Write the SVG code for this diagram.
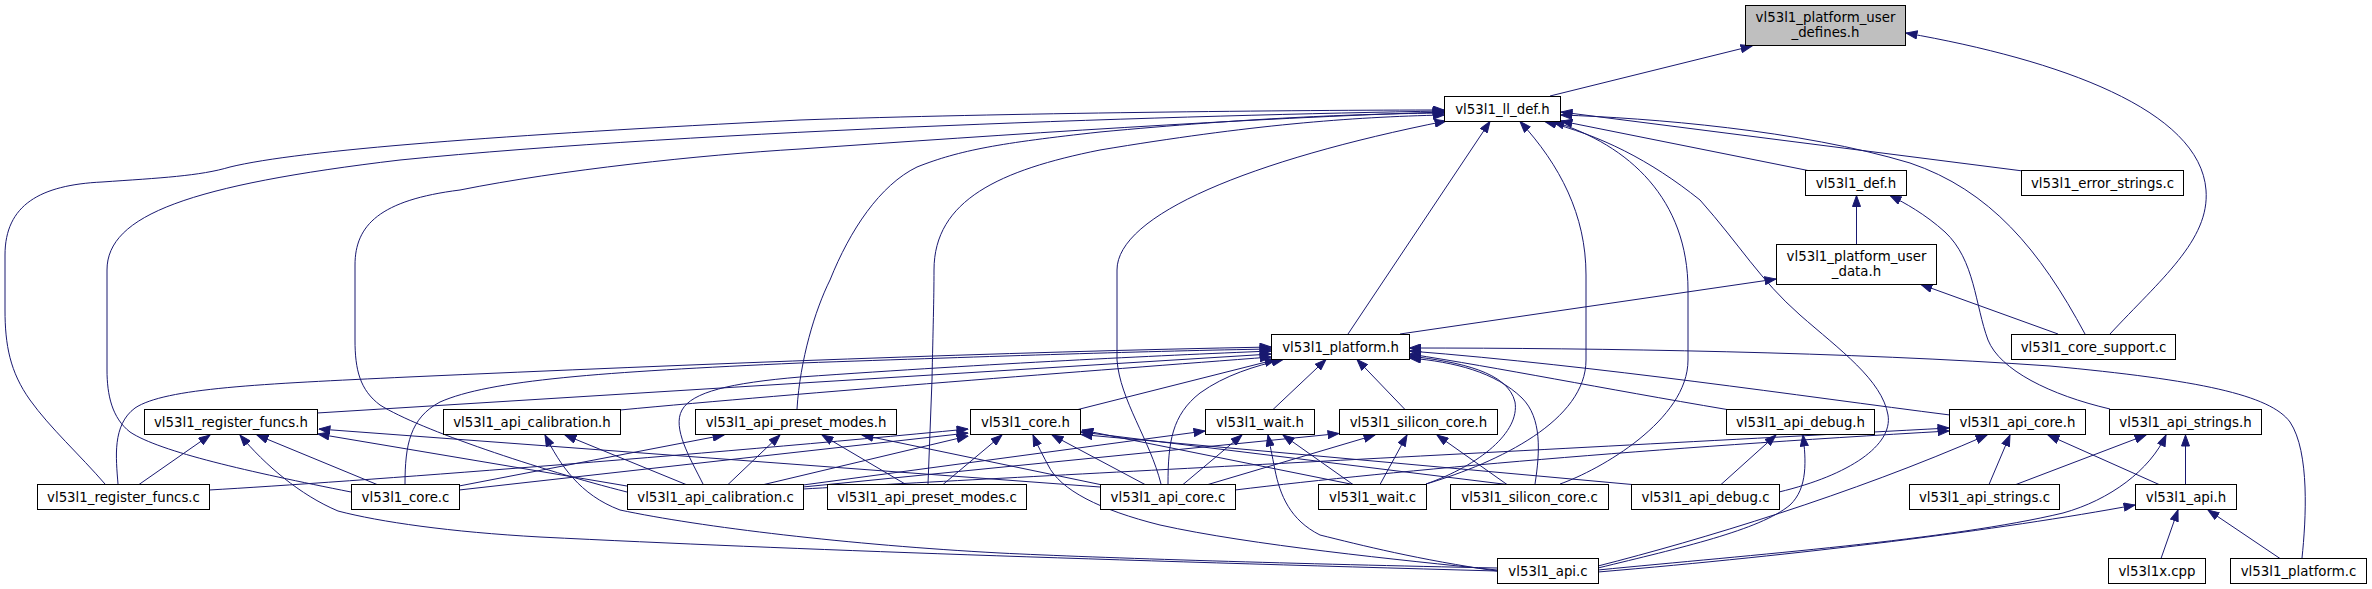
<svg xmlns="http://www.w3.org/2000/svg" width="2372" height="589" viewBox="0 0 2372 589">
<style>
.n{fill:#fff;stroke:#000;stroke-width:1}
.g{fill:#bfbfbf;stroke:#000;stroke-width:1}
.t{font-family:"DejaVu Sans","Liberation Sans",sans-serif;font-size:13.33px;text-anchor:middle;fill:#000}
.e{fill:none;stroke:#191970;stroke-width:1;marker-end:url(#ah)}
</style>
<defs>
<marker id="ah" markerUnits="userSpaceOnUse" markerWidth="12" markerHeight="9" viewBox="0 0 12 9" refX="11.5" refY="4.5" orient="auto">
<path d="M0.5,0.5 L11.5,4.5 L0.5,8.5 z" fill="#191970" stroke="#191970" stroke-width="1"/>
</marker>
</defs>
<rect x="0" y="0" width="2372" height="589" fill="#fff"/>
<g id="connectors">
<path class="e" d="M1550,96 L1752,46"/>
<path class="e" d="M2110,334 C2160,280 2210,240 2206,190 C2200,110 2060,60 1906,33"/>
<path class="e" d="M1808,170.5 L1561,121"/>
<path class="e" d="M2023,171 L1561,112"/>
<path class="e" d="M2085,334 C2040,250 1990,190 1910,163 C1800,130 1650,118 1561,115"/>
<path class="e" d="M1560,484 C1600,470 1688,420 1688,360 L1688,290 C1688,200 1630,145 1553,121.5"/>
<path class="e" d="M1779,492 C1850,475 1893,445 1888,415 C1882,380 1840,350 1800,315 C1760,280 1740,245 1700,200 C1650,160 1600,135 1545,121.5"/>
<path class="e" d="M1426,484 C1500,462 1586,420 1586,360 L1586,275 C1586,215 1560,165 1520,121.5"/>
<path class="e" d="M1348,334 L1490,121.5"/>
<path class="e" d="M1161,484 C1150,440 1120,400 1117,360 L1117,270 C1117,215 1250,160 1446,121"/>
<path class="e" d="M928,484 L932,380 C933,330 934,300 934,270 C934,200 1000,170 1100,150 C1250,125 1350,117 1444,115"/>
<path class="e" d="M797,409 C800,360 815,310 830,280 C850,230 880,185 917,167 C960,150 1000,143 1100,132 C1250,118 1350,114 1444,113"/>
<path class="e" d="M627,492 C540,470 420,430 380,405 C360,390 355,370 355,340 L355,265 C355,225 380,200 460,190 C560,170 700,155 800,149 C1000,135 1250,118 1444,112"/>
<path class="e" d="M351,492 C250,472 160,452 130,432 C112,418 107,395 107,370 L107,270 C107,215 190,185 400,160 C700,130 1200,115 1444,111"/>
<path class="e" d="M105,484 C80,455 50,428 30,400 C10,372 5,345 5,310 L5,255 C5,205 40,185 102,182 C160,178 200,176 230,167 C300,150 500,135 800,120 C1000,113 1300,110 1444,110"/>
<path class="e" d="M118,484 C116,458 112,425 135,408 C165,388 260,384 408,377 C700,364 1000,352 1271,347"/>
<path class="e" d="M405,484 C405,445 410,418 440,402 C490,380 600,372 800,363 C1000,356 1150,351 1271,349"/>
<path class="e" d="M703,484 C690,458 672,428 682,410 C692,392 730,383 800,377 C1000,363 1150,356 1271,351"/>
<path class="e" d="M317,413 L1271,354"/>
<path class="e" d="M620,410 C800,393 1100,370 1271,357"/>
<path class="e" d="M1078,409.5 L1276,359.5"/>
<path class="e" d="M1168,484 C1168,442 1172,415 1200,393 C1225,375 1255,366 1283,359.5"/>
<path class="e" d="M1273,409.5 L1326,359.5"/>
<path class="e" d="M1405,409.5 L1357,359.5"/>
<path class="e" d="M1426,484 C1480,465 1520,432 1515,402 C1508,372 1460,362 1409.5,356"/>
<path class="e" d="M1535,484 C1540,452 1542,418 1522,398 C1495,372 1455,362 1409.5,358"/>
<path class="e" d="M1727,409.5 C1600,388 1500,368 1409.5,354"/>
<path class="e" d="M1950,415 C1800,396 1600,366 1409.5,351"/>
<path class="e" d="M2302,558 C2306,520 2310,452 2290,422 C2270,395 2200,380 2050,366 C1850,352 1600,348 1409.5,348"/>
<path class="e" d="M1400,334 L1776,279"/>
<path class="e" d="M1856.5,244 L1856.5,195.5"/>
<path class="e" d="M2058,334 L1921,284.5"/>
<path class="e" d="M2110,409 C2050,395 2000,370 1988,340 C1975,305 1975,260 1945,232 C1925,214 1905,203 1890,195.5"/>
<path class="e" d="M139,484.5 L210,435"/>
<path class="e" d="M377,484.5 L257,435"/>
<path class="e" d="M1497,571 C1100,560 800,550 540,537 C450,532 380,522 338,511 C300,495 265,465 240,435"/>
<path class="e" d="M627,486 L318,434"/>
<path class="e" d="M1100,487 L319,429"/>
<path class="e" d="M686,484.5 L565,435"/>
<path class="e" d="M1497,568 C1300,564 1100,558 1000,553 C850,545 700,527 620,510 C580,495 560,465 545,435"/>
<path class="e" d="M459,486 L724,435"/>
<path class="e" d="M728,484.5 L780,435"/>
<path class="e" d="M906,484.5 L822,435"/>
<path class="e" d="M1100,484.5 L862,435"/>
<path class="e" d="M209,490 C350,482 700,455 968,429"/>
<path class="e" d="M459,490 L968,433"/>
<path class="e" d="M764,484.5 L968,436"/>
<path class="e" d="M943,484.5 L1002,435"/>
<path class="e" d="M1497,570 C1400,560 1250,545 1160,525 C1100,510 1060,490 1048,465 C1040,450 1036,442 1033,435"/>
<path class="e" d="M1145,484.5 L1052,435"/>
<path class="e" d="M1353,484.5 L1082,430"/>
<path class="e" d="M1507,484.5 L1081,432"/>
<path class="e" d="M1632,484.5 L1081,434.5"/>
<path class="e" d="M1183,484.5 L1242,435"/>
<path class="e" d="M1497,571 C1420,560 1360,545 1320,535 C1290,520 1280,495 1275,470 C1272,455 1270,445 1268,435"/>
<path class="e" d="M1353,484.5 L1283,435"/>
<path class="e" d="M803,485 L1205,431"/>
<path class="e" d="M803,487 L1339,433.5"/>
<path class="e" d="M1208,484.5 L1375,435"/>
<path class="e" d="M1380,484.5 L1407,435"/>
<path class="e" d="M1507,484.5 L1437,435"/>
<path class="e" d="M1721,484.5 L1776,435"/>
<path class="e" d="M1598,568 C1680,548 1760,530 1790,505 C1808,488 1806,460 1803,435"/>
<path class="e" d="M1235,490 C1400,470 1650,448 1949,431"/>
<path class="e" d="M803,489 C1000,478 1500,452 1949,428"/>
<path class="e" d="M1598,566 C1700,540 1850,495 1987,435"/>
<path class="e" d="M1989,484.5 L2010,435"/>
<path class="e" d="M2159,484.5 L2048,435"/>
<path class="e" d="M2016,484.5 L2146,435"/>
<path class="e" d="M1598,570 C1750,555 1950,540 2063,513 C2110,500 2150,470 2166,435"/>
<path class="e" d="M2185.5,484.5 L2185.5,435"/>
<path class="e" d="M1598,572 C1800,555 2000,530 2135,505"/>
<path class="e" d="M2161,558.5 L2178,510"/>
<path class="e" d="M2280,558.5 L2208,510"/>
</g>
<g id="n_platform_user_defines"><rect class="g" x="1745.5" y="5.5" width="160" height="40"/><text class="t" x="1825.5" y="22">vl53l1_platform_user</text><text class="t" x="1825.5" y="37">_defines.h</text></g>
<g id="n_ll_def_h"><rect class="n" x="1444.5" y="96.5" width="116" height="25"/><text class="t" x="1502.5" y="113.5">vl53l1_ll_def.h</text></g>
<g id="n_def_h"><rect class="n" x="1805.5" y="170.5" width="101" height="25"/><text class="t" x="1856" y="187.5">vl53l1_def.h</text></g>
<g id="n_error_strings_c"><rect class="n" x="2021.5" y="170.5" width="162" height="25"/><text class="t" x="2102.5" y="187.5">vl53l1_error_strings.c</text></g>
<g id="n_platform_user_data"><rect class="n" x="1776.5" y="244.5" width="160" height="40"/><text class="t" x="1856.5" y="260.5">vl53l1_platform_user</text><text class="t" x="1856.5" y="275.5">_data.h</text></g>
<g id="n_platform_h"><rect class="n" x="1271.5" y="334.5" width="138" height="25"/><text class="t" x="1340.5" y="351.5">vl53l1_platform.h</text></g>
<g id="n_core_support_c"><rect class="n" x="2011.5" y="334.5" width="164" height="25"/><text class="t" x="2093.5" y="351.5">vl53l1_core_support.c</text></g>
<g id="n_register_funcs_h"><rect class="n" x="144.5" y="409.5" width="173" height="25"/><text class="t" x="231" y="426.5">vl53l1_register_funcs.h</text></g>
<g id="n_api_calibration_h"><rect class="n" x="443.5" y="409.5" width="177" height="25"/><text class="t" x="532" y="426.5">vl53l1_api_calibration.h</text></g>
<g id="n_api_preset_modes_h"><rect class="n" x="695.5" y="409.5" width="201" height="25"/><text class="t" x="796" y="426.5">vl53l1_api_preset_modes.h</text></g>
<g id="n_core_h"><rect class="n" x="970.5" y="409.5" width="110" height="25"/><text class="t" x="1025.5" y="426.5">vl53l1_core.h</text></g>
<g id="n_wait_h"><rect class="n" x="1205.5" y="409.5" width="109" height="25"/><text class="t" x="1260" y="426.5">vl53l1_wait.h</text></g>
<g id="n_silicon_core_h"><rect class="n" x="1339.5" y="409.5" width="158" height="25"/><text class="t" x="1418.5" y="426.5">vl53l1_silicon_core.h</text></g>
<g id="n_api_debug_h"><rect class="n" x="1726.5" y="409.5" width="148" height="25"/><text class="t" x="1800.5" y="426.5">vl53l1_api_debug.h</text></g>
<g id="n_api_core_h"><rect class="n" x="1949.5" y="409.5" width="136" height="25"/><text class="t" x="2017.5" y="426.5">vl53l1_api_core.h</text></g>
<g id="n_api_strings_h"><rect class="n" x="2109.5" y="409.5" width="152" height="25"/><text class="t" x="2185.5" y="426.5">vl53l1_api_strings.h</text></g>
<g id="n_register_funcs_c"><rect class="n" x="37.5" y="484.5" width="172" height="25"/><text class="t" x="123.5" y="501.5">vl53l1_register_funcs.c</text></g>
<g id="n_core_c"><rect class="n" x="351.5" y="484.5" width="108" height="25"/><text class="t" x="405.5" y="501.5">vl53l1_core.c</text></g>
<g id="n_api_calibration_c"><rect class="n" x="627.5" y="484.5" width="176" height="25"/><text class="t" x="715.5" y="501.5">vl53l1_api_calibration.c</text></g>
<g id="n_api_preset_modes_c"><rect class="n" x="827.5" y="484.5" width="199" height="25"/><text class="t" x="927" y="501.5">vl53l1_api_preset_modes.c</text></g>
<g id="n_api_core_c"><rect class="n" x="1100.5" y="484.5" width="135" height="25"/><text class="t" x="1168" y="501.5">vl53l1_api_core.c</text></g>
<g id="n_wait_c"><rect class="n" x="1318.5" y="484.5" width="108" height="25"/><text class="t" x="1372.5" y="501.5">vl53l1_wait.c</text></g>
<g id="n_silicon_core_c"><rect class="n" x="1450.5" y="484.5" width="158" height="25"/><text class="t" x="1529.5" y="501.5">vl53l1_silicon_core.c</text></g>
<g id="n_api_debug_c"><rect class="n" x="1631.5" y="484.5" width="148" height="25"/><text class="t" x="1705.5" y="501.5">vl53l1_api_debug.c</text></g>
<g id="n_api_strings_c"><rect class="n" x="1909.5" y="484.5" width="150" height="25"/><text class="t" x="1984.5" y="501.5">vl53l1_api_strings.c</text></g>
<g id="n_api_h"><rect class="n" x="2135.5" y="484.5" width="101" height="25"/><text class="t" x="2186" y="501.5">vl53l1_api.h</text></g>
<g id="n_api_c"><rect class="n" x="1497.5" y="558.5" width="101" height="25"/><text class="t" x="1548" y="575.5">vl53l1_api.c</text></g>
<g id="n_vl53l1x_cpp"><rect class="n" x="2108.5" y="558.5" width="97" height="25"/><text class="t" x="2157" y="575.5">vl53l1x.cpp</text></g>
<g id="n_platform_c"><rect class="n" x="2230.5" y="558.5" width="136" height="25"/><text class="t" x="2298.5" y="575.5">vl53l1_platform.c</text></g>
</svg>
